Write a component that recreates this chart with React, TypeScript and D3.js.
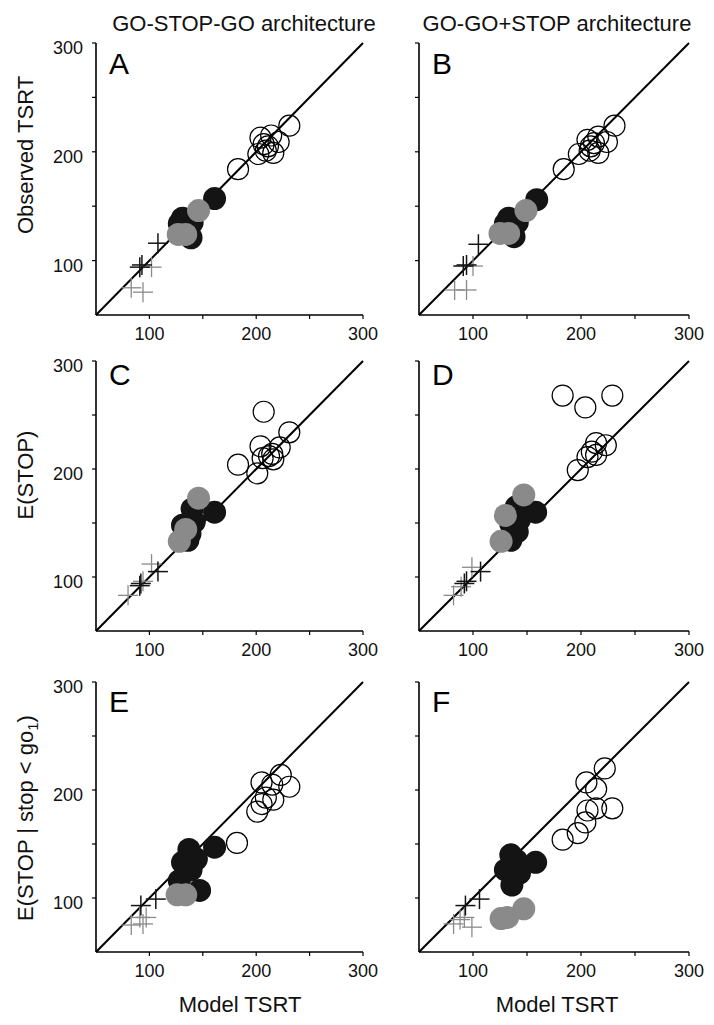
import React from "react";
import * as d3 from "d3";

// ---------- DATA (x = Model TSRT, y = panel quantity) ----------
const columnTitles = ["GO-STOP-GO architecture", "GO-GO+STOP architecture"];
const panelLetters = ["A", "B", "C", "D", "E", "F"];
const tickValues = [100, 150, 200, 250, 300];
const tickLabels = [100, 200, 300];

const A_open = [[183,184],[202,198],[209,201],[216,199],[221,209],[204,213],[214,215],[211,205],[207,207],[231,224]];
const A_black = [[161,157],[131,139],[140,135],[139,121],[136,132],[128,134]];
const A_gray = [[146,146],[127,124],[134,124]];
const A_crossBlack = [[108,116],[91,94],[93,96]];
const A_crossGray = [[102,94],[83,75],[94,71]];

const B_open = [[184,184],[231,224],[206,211],[216,214],[224,209],[198,198],[208,201],[216,199],[209,205],[212,208]];
const B_black = [[159,156],[133,139],[141,135],[138,122],[136,133],[130,134]];
const B_gray = [[149,146],[125,125],[133,125]];
const B_crossBlack = [[105,115],[91,95],[94,96]];
const B_crossGray = [[100,95],[83,73],[94,73]];

const C_open = [[183,204],[207,253],[231,234],[204,221],[222,220],[215,214],[212,212],[206,210],[201,196],[216,209]];
const C_black = [[161,160],[140,163],[131,148],[142,151],[136,134],[138,140]];
const C_gray = [[146,173],[134,144],[128,133]];
const C_crossBlack = [[108,105],[91,92],[92,94]];
const C_crossGray = [[102,112],[80,83],[94,96]];

const D_open = [[183,268],[204,257],[229,268],[214,224],[223,222],[206,211],[214,213],[197,199],[210,216]];
const D_black = [[158,160],[140,165],[135,149],[143,153],[135,134],[141,142]];
const D_gray = [[147,176],[130,157],[126,133]];
const D_crossBlack = [[107,105],[92,94],[94,96]];
const D_crossGray = [[99,109],[82,83],[89,91]];

const E_open = [[182,151],[201,180],[205,187],[209,193],[216,191],[205,207],[215,205],[223,214],[231,203]];
const E_black = [[161,147],[137,145],[144,136],[131,133],[139,126],[128,116],[147,107]];
const E_gray = [[126,103],[134,103]];
const E_crossBlack = [[92,93],[106,99]];
const E_crossGray = [[91,82],[97,82],[83,75],[94,76]];

const F_open = [[183,154],[197,160],[204,170],[206,181],[214,183],[229,183],[214,201],[205,207],[222,220]];
const F_black = [[135,140],[158,133],[130,126],[143,123],[136,112],[140,135]];
const F_gray = [[126,81],[132,82],[147,90]];
const F_crossBlack = [[93,93],[106,99]];
const F_crossGray = [[92,82],[99,73],[82,76],[88,80]];

const panelData = [
  { open: A_open, black: A_black, gray: A_gray, cb: A_crossBlack, cg: A_crossGray },
  { open: B_open, black: B_black, gray: B_gray, cb: B_crossBlack, cg: B_crossGray },
  { open: C_open, black: C_black, gray: C_gray, cb: C_crossBlack, cg: C_crossGray },
  { open: D_open, black: D_black, gray: D_gray, cb: D_crossBlack, cg: D_crossGray },
  { open: E_open, black: E_black, gray: E_gray, cb: E_crossBlack, cg: E_crossGray },
  { open: F_open, black: F_black, gray: F_gray, cb: F_crossBlack, cg: F_crossGray },
];

// ---------- LAYOUT ----------
const COLS = [ { x0: 96, x1: 363 }, { x0: 419, x1: 689 } ];
const ROWS = [ { y0: 315, y1: 43 }, { y0: 631, y1: 361 }, { y0: 952, y1: 682 } ];
const LETTER_DY = [31, 24, 30];
const FONT = "'Liberation Sans', Arial, sans-serif";
const GRAY = "#8a8a8a";
const BLACK = "#141414";

function Cross({ cx, cy, color, w }: any) {
  const s = 10;
  return (
    <g stroke={color} strokeWidth={w}>
      <line x1={cx - s} x2={cx + s} y1={cy} y2={cy} />
      <line x1={cx} x2={cx} y1={cy - s} y2={cy + s} />
    </g>
  );
}

function Panel({ idx }: any) {
  const col = idx % 2;
  const row = Math.floor(idx / 2);
  const { x0, x1 } = COLS[col];
  const { y0, y1 } = ROWS[row];
  const x = d3.scaleLinear().domain([50, 300]).range([x0, x1]);
  const y = d3.scaleLinear().domain([50, 300]).range([y0, y1]);
  const d = panelData[idx];
  return (
    <g>
      {/* axes */}
      <line x1={x0} x2={x0} y1={y0} y2={y1} stroke="#000" strokeWidth={1.6} />
      <line x1={x0} x2={x1} y1={y0} y2={y0} stroke="#000" strokeWidth={1.6} />
      {tickValues.map((t) => (
        <line key={"yt" + t} x1={x0 - 4} x2={x0} y1={y(t)} y2={y(t)} stroke="#000" strokeWidth={1.2} />
      ))}
      {tickValues.map((t) => (
        <line key={"xt" + t} x1={x(t)} x2={x(t)} y1={y0} y2={y0 + 4} stroke="#000" strokeWidth={1.2} />
      ))}
      {tickLabels.map((t) => (
        <text key={"xl" + t} x={x(t)} y={y0 + 25} textAnchor="middle" fontSize={18} fontFamily={FONT} fill="#111">
          {t}
        </text>
      ))}
      {col === 0 &&
        tickLabels.map((t) => (
          <text key={"yl" + t} x={x0 - 13} y={y(t) + 11} textAnchor="end" fontSize={18} fontFamily={FONT} fill="#111">
            {t}
          </text>
        ))}
      {/* identity line */}
      <line x1={x(50)} y1={y(50)} x2={x(300)} y2={y(300)} stroke="#000" strokeWidth={2} />
      {/* crosses */}
      {d.cg.map((p: number[], i: number) => (
        <Cross key={"cg" + i} cx={x(p[0])} cy={y(p[1])} color={GRAY} w={1.3} />
      ))}
      {d.cb.map((p: number[], i: number) => (
        <Cross key={"cb" + i} cx={x(p[0])} cy={y(p[1])} color={BLACK} w={1.5} />
      ))}
      {/* open circles */}
      {d.open.map((p: number[], i: number) => (
        <circle key={"o" + i} cx={x(p[0])} cy={y(p[1])} r={10.5} fill="none" stroke="#000" strokeWidth={1.2} />
      ))}
      {/* filled circles */}
      {d.black.map((p: number[], i: number) => (
        <circle key={"b" + i} cx={x(p[0])} cy={y(p[1])} r={11.5} fill={BLACK} />
      ))}
      {d.gray.map((p: number[], i: number) => (
        <circle key={"g" + i} cx={x(p[0])} cy={y(p[1])} r={11.5} fill={GRAY} />
      ))}
      <text x={x0 + 13} y={y1 + LETTER_DY[row]} fontSize={30} fontFamily={FONT} fill="#000">
        {panelLetters[idx]}
      </text>
    </g>
  );
}

export default function App() {
  return (
    <svg width={714} height={1025} style={{ position: "absolute", left: 0, top: 0, background: "#fff" }}>
      <rect width={714} height={1025} fill="#fff" />
      {columnTitles.map((t, i) => (
        <text key={t} x={i === 0 ? 244 : 557} y={31} textAnchor="middle" fontSize={22} fontFamily={FONT} fill="#111">
          {t}
        </text>
      ))}
      <text transform="translate(33,155) rotate(-90)" textAnchor="middle" fontSize={22} fontFamily={FONT} fill="#111">
        Observed TSRT
      </text>
      <text transform="translate(33,475) rotate(-90)" textAnchor="middle" fontSize={22} fontFamily={FONT} fill="#111">
        E(STOP)
      </text>
      <text transform="translate(33,818) rotate(-90)" textAnchor="middle" fontSize={22} fontFamily={FONT} fill="#111">
        E(STOP | stop &lt; go<tspan fontSize={15} dy={5}>1</tspan><tspan dy={-5}>)</tspan>
      </text>
      <text x={240} y={1012} textAnchor="middle" fontSize={22} fontFamily={FONT} fill="#111">Model TSRT</text>
      <text x={557} y={1012} textAnchor="middle" fontSize={22} fontFamily={FONT} fill="#111">Model TSRT</text>
      {panelLetters.map((_, i) => (
        <Panel key={i} idx={i} />
      ))}
    </svg>
  );
}
